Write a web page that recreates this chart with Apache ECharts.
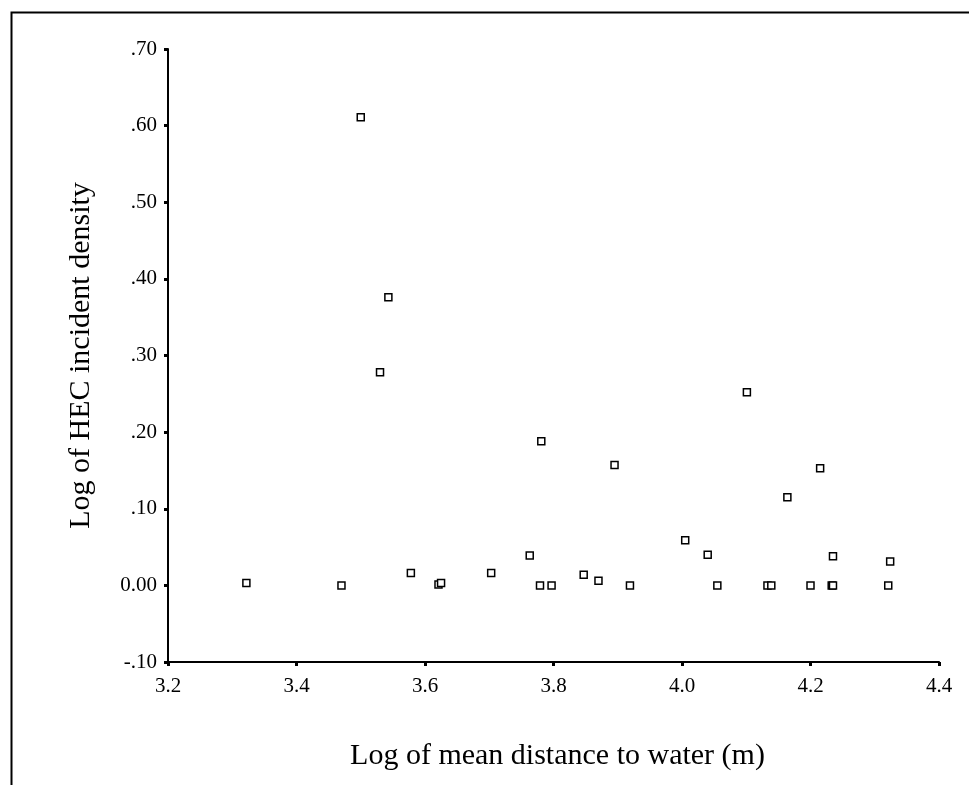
<!DOCTYPE html>
<html>
<head>
<meta charset="utf-8">
<script src="https://cdn.jsdelivr.net/npm/echarts@6/dist/echarts.min.js"></script>
<style>
  html, body { margin: 0; padding: 0; background: #fff; }
  #chart { width: 969px; height: 785px; }
</style>
</head>
<body>
<div id="chart"></div>
<script>
// Log of mean distance to water (m)
const distanceLog = [3.322, 3.470, 3.500, 3.530, 3.543, 3.578, 3.621, 3.625, 3.703, 3.763,
                     3.779, 3.781, 3.797, 3.847, 3.870, 3.895, 3.919, 4.005, 4.040, 4.055,
                     4.101, 4.133, 4.139, 4.164, 4.200, 4.215, 4.233, 4.235, 4.235, 4.321, 4.324];
// Log of HEC incident density
const densityLog = [0.003, 0.000, 0.611, 0.278, 0.376, 0.016, 0.001, 0.003, 0.016, 0.039,
                    0.000, 0.188, 0.000, 0.014, 0.006, 0.157, 0.000, 0.059, 0.040, 0.000,
                    0.252, 0.000, 0.000, 0.115, 0.000, 0.153, 0.000, 0.000, 0.038, 0.000, 0.031];
const xTicks = [3.2, 3.4, 3.6, 3.8, 4.0, 4.2, 4.4];
const yTicks = [-0.1, 0.0, 0.1, 0.2, 0.3, 0.4, 0.5, 0.6, 0.7];
const xTitle = 'Log of mean distance to water (m)';
const yTitle = 'Log of HEC incident density';

const points = distanceLog.map((x, i) => [x, densityLog[i]]);
const font = "'Liberation Serif', 'Times New Roman', serif";

function fmtY(v) {
  const r = Math.round(v * 100) / 100;
  if (r === 0) return '0.00';
  const s = Math.abs(r).toFixed(2).replace(/^0/, '');
  return (r < 0 ? '-' : '') + s;
}

const chart = echarts.init(document.getElementById('chart'), null, { renderer: 'canvas' });
chart.setOption({
  backgroundColor: '#fff',
  animation: false,
  grid: { left: 168, right: 30, top: 49, bottom: 123, containLabel: false },
  xAxis: {
    type: 'value',
    min: xTicks[0], max: xTicks[xTicks.length - 1], interval: 0.2,
    name: xTitle, nameLocation: 'middle', nameGap: 79,
    nameTextStyle: { fontFamily: font, fontSize: 30, color: '#000', padding: [0, 0, 0, 8] },
    axisLine: { show: true, onZero: false, lineStyle: { color: '#000', width: 2 } },
    axisTick: { show: true, length: 4, lineStyle: { color: '#000', width: 3 } },
    axisLabel: { margin: 14, fontFamily: font, fontSize: 21, color: '#000',
                 formatter: v => v.toFixed(1) },
    splitLine: { show: false }
  },
  yAxis: {
    type: 'value',
    min: yTicks[0], max: yTicks[yTicks.length - 1], interval: 0.1,
    name: yTitle, nameLocation: 'middle', nameGap: 72,
    nameTextStyle: { fontFamily: font, fontSize: 30, color: '#000' },
    axisLine: { show: true, onZero: false, lineStyle: { color: '#000', width: 2 } },
    axisTick: { show: true, length: 4, lineStyle: { color: '#000', width: 3 } },
    axisLabel: { margin: 11, fontFamily: font, fontSize: 21, color: '#000', formatter: fmtY },
    splitLine: { show: false }
  },
  graphic: [{
    type: 'rect', left: 9, top: 10, silent: true,
    shape: { x: 0, y: 0, width: 1200, height: 1000 },
    style: { fill: 'none', stroke: '#000', lineWidth: 2 }
  }],
  series: [{
    type: 'scatter',
    data: points,
    symbol: 'rect',
    symbolSize: 7,
    itemStyle: { color: '#fff', borderColor: '#000', borderWidth: 1.5, opacity: 1 }
  }]
});
</script>
</body>
</html>
